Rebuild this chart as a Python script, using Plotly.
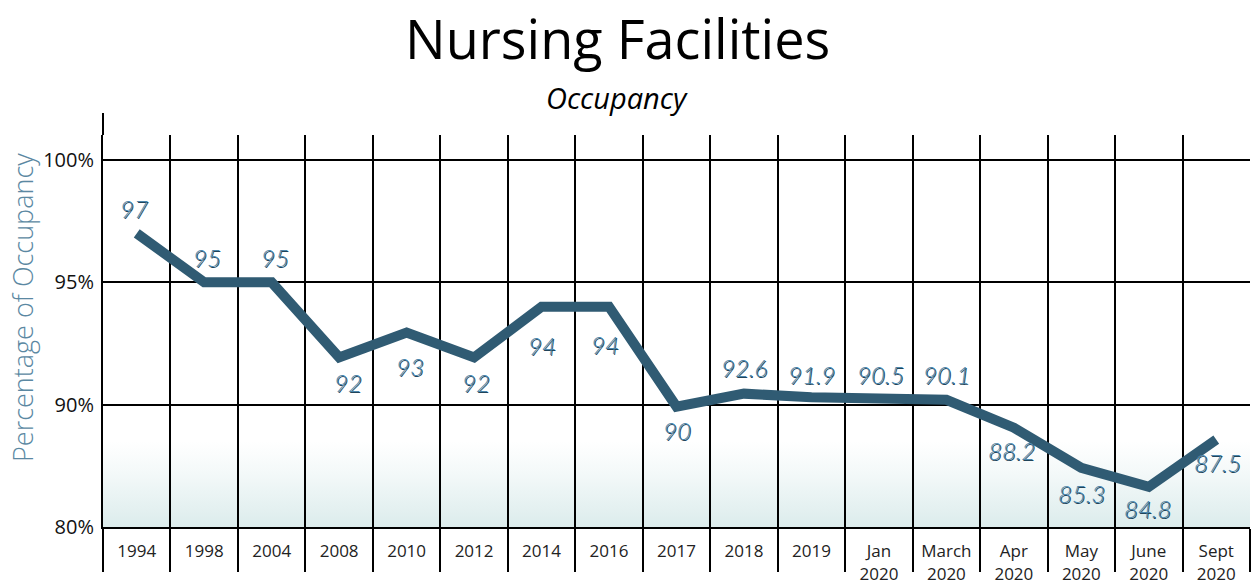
import base64
import plotly.graph_objects as go

# ---- data ----
categories = ["1994", "1998", "2004", "2008", "2010", "2012", "2014", "2016",
              "2017", "2018", "2019", "Jan<br>2020", "March<br>2020", "Apr<br>2020",
              "May<br>2020", "June<br>2020", "Sept<br>2020"]
# line heights as drawn on the chart's display scale (tick "80%" sits at 85)
occupancy_drawn = [97.0, 95.0, 95.0, 91.93, 92.95, 91.93, 94.0, 94.0, 89.92,
                   90.45, 90.3, 90.25, 90.2, 89.06, 87.42, 86.64, 88.57]
value_labels = ["97", "95", "95", "92", "93", "92", "94", "94", "90",
                "92.6", "91.9", "90.5", "90.1", "88.2", "85.3", "84.8", "87.5"]
tick_vals = [85, 90, 95, 100]
tick_text = ["80%", "90%", "95%", "100%"]

# label offsets (style)
label_dy = [25, 25, 25, -25, -34, -25, -39, -38, -24, 26, 23, 24, 25, -23, -26, -22, -23]
label_dx = [-3, 3, 3, 9, 3, 2, 0, -4, 0, 0, 0, 2, 0, -2, 0, -1, 1]

LINE = "#305b73"
LABEL = "#4d86ab"
FONT = "Open Sans"

fig = go.Figure()
fig.add_trace(go.Scatter(
    x=categories, y=occupancy_drawn, mode="lines",
    line=dict(color=LINE, width=10), hoverinfo="skip", showlegend=False,
))

for i, (v, t, dy, dx) in enumerate(zip(occupancy_drawn, value_labels, label_dy, label_dx)):
    fig.add_annotation(
        x=i, y=v, text=t, showarrow=False, yshift=dy, xshift=dx,
        xanchor="center", yanchor="middle",
        font=dict(family="Lato", size=24, color=LABEL, style="italic", weight=300,
                  shadow="1px 1px 0px #20445a"),
    )

svg = ("<svg xmlns='http://www.w3.org/2000/svg' width='100' height='100' preserveAspectRatio='none'>"
       "<defs><linearGradient id='g' x1='0' y1='0' x2='0' y2='1'>"
       "<stop offset='0' stop-color='#ffffff'/><stop offset='0.3' stop-color='#ffffff'/>"
       "<stop offset='0.55' stop-color='#f4f9f9'/>"
       "<stop offset='1' stop-color='#dcecec'/></linearGradient></defs>"
       "<rect width='100' height='100' fill='url(#g)'/></svg>")
src = "data:image/svg+xml;base64," + base64.b64encode(svg.encode()).decode()
fig.add_layout_image(dict(source=src, xref="paper", yref="y", x=0, y=90,
                          sizex=1, sizey=5, sizing="stretch", layer="below",
                          xanchor="left", yanchor="top"))

fig.update_xaxes(
    type="category", tickson="boundaries", range=[-0.5, 16.5],
    ticks="outside", ticklen=43, tickwidth=2, tickcolor="black",
    showgrid=True, gridcolor="black", gridwidth=2,
    showline=True, linecolor="black", linewidth=2,
    tickfont=dict(family=FONT, size=17, color="#222222"),
    ticklabelstandoff=8, automargin=False,
)
fig.update_yaxes(
    range=[85, 101.02], tickvals=tick_vals, ticktext=tick_text,
    showgrid=True, gridcolor="black", gridwidth=2,
    showline=True, linecolor="black", linewidth=2, zeroline=False,
    tickfont=dict(family=FONT, size=20, color="#111111"), ticks="",
    ticklabelstandoff=3, automargin=False,
)

# axis extension above the plot on the left
fig.add_shape(type="line", xref="paper", yref="paper", x0=0, x1=0,
              y0=1, y1=(527 - 113) / 392, line=dict(color="black", width=2))

fig.add_annotation(text="Nursing Facilities", xref="paper", yref="paper",
                   x=(617 - 103) / 1147, y=(527 - 38) / 392, showarrow=False,
                   xanchor="center", yanchor="middle",
                   font=dict(family=FONT, size=54, color="#000000"))
fig.add_annotation(text="Occupancy", xref="paper", yref="paper",
                   x=(617 - 103) / 1147, y=(527 - 98) / 392, showarrow=False,
                   xanchor="center", yanchor="middle",
                   font=dict(family=FONT, size=29, color="#000000", style="italic"))
fig.add_annotation(text="Percentage of Occupancy", xref="paper", yref="paper",
                   x=-(103 - 22) / 1147, y=(527 - 308) / 392, showarrow=False,
                   xanchor="center", yanchor="middle", textangle=-90,
                   font=dict(family=FONT, size=27, color="#5b88a2", weight=300))

fig.update_layout(
    width=1257, height=587,
    margin=dict(l=103, r=7, t=135, b=60),
    paper_bgcolor="white", plot_bgcolor="white",
    showlegend=False,
)
fig.write_html("out.html", config={"displayModeBar": False},
               post_script="document.body.style.margin='0';")
